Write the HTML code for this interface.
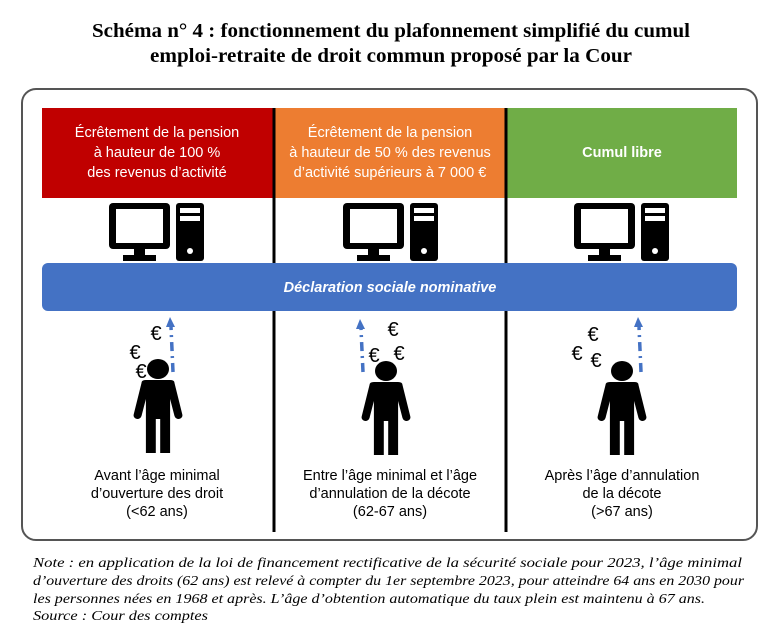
<!DOCTYPE html>
<html><head><meta charset="utf-8"><style>html,body{margin:0;padding:0;background:#fff}svg{display:block}</style></head>
<body>
<svg width="783" height="633" viewBox="0 0 783 633" xmlns="http://www.w3.org/2000/svg">
<defs>
<g id="pc">
  <rect x="0" y="0" width="61" height="46" rx="4" fill="#000"/>
  <rect x="7" y="6" width="47" height="34" fill="#fff"/>
  <rect x="25" y="46" width="11" height="8" fill="#000"/>
  <rect x="14" y="52" width="33" height="6" fill="#000"/>
  <rect x="67" y="0" width="28" height="58" rx="3" fill="#000"/>
  <rect x="71" y="5" width="20" height="5" fill="#fff"/>
  <rect x="71" y="13" width="20" height="5" fill="#fff"/>
  <circle cx="81" cy="48" r="3" fill="#fff"/>
</g>
<g id="man">
  <circle cx="0" cy="0" r="10" fill="#000"/>
  <path d="M-15,14 Q-15,11 -11,11 L11,11 Q15,11 15,14 L22,45 Q23,49 19,50 Q16,50 15,47 L11,30 L11,84 L2,84 L2,50 L-2,50 L-2,84 L-11,84 L-11,30 L-15,47 Q-16,50 -19,50 Q-23,49 -22,45 Z" fill="#000"/>
</g>
</defs>
<g font-family="Liberation Serif, serif" font-weight="bold" font-size="20" text-anchor="middle" fill="#000">
<text x="391" y="37" textLength="598" lengthAdjust="spacingAndGlyphs">Schéma n° 4 : fonctionnement du plafonnement simplifié du cumul</text>
<text x="391" y="62" textLength="482" lengthAdjust="spacingAndGlyphs">emploi-retraite de droit commun proposé par la Cour</text>
</g>
<rect x="22" y="89" width="735" height="451" rx="14" fill="none" stroke="#555" stroke-width="2"/>
<rect x="42" y="108" width="231" height="90" fill="#c00000"/>
<rect x="275" y="108" width="230" height="90" fill="#ed7d31"/>
<rect x="507" y="108" width="230" height="90" fill="#70ad47"/>
<line x1="274" y1="108" x2="274" y2="532" stroke="#000" stroke-width="3"/>
<line x1="506" y1="108" x2="506" y2="532" stroke="#000" stroke-width="3"/>
<g font-family="Liberation Sans, sans-serif" font-size="14.5" fill="#fff" text-anchor="middle">
<text x="157" y="137">Écrêtement de la pension</text>
<text x="157" y="157">à hauteur de 100 %</text>
<text x="157" y="177">des revenus d’activité</text>
<text x="390" y="137">Écrêtement de la pension</text>
<text x="390" y="157">à hauteur de 50 % des revenus</text>
<text x="390" y="177">d’activité supérieurs à 7 000 €</text>
<text x="622" y="157" font-weight="bold">Cumul libre</text>
</g>
<use href="#pc" x="109" y="203"/>
<use href="#pc" x="343" y="203"/>
<use href="#pc" x="574" y="203"/>
<rect x="42" y="263" width="695" height="48" rx="6" fill="#4472c4"/>
<text x="390" y="292" font-family="Liberation Sans, sans-serif" font-size="14.5" font-style="italic" font-weight="bold" fill="#fff" text-anchor="middle">Déclaration sociale nominative</text>
<g stroke="#4472c4" stroke-width="3.5" stroke-dasharray="9,5,2,5" fill="none">
<line x1="173" y1="372" x2="171" y2="327"/>
<line x1="363" y1="372" x2="361" y2="329"/>
<line x1="641" y1="372" x2="639" y2="327"/>
</g>
<g fill="#4472c4">
<path d="M170,317 L166,327 L175,327 Z"/>
<path d="M360,319 L356,329 L365,329 Z"/>
<path d="M638,317 L634,327 L643,327 Z"/>
</g>
<g font-family="Liberation Sans, sans-serif" font-size="20" fill="#000" text-anchor="middle">
<text x="156" y="340">€</text><text x="135" y="359">€</text><text x="141" y="378">€</text>
<text x="393" y="336">€</text><text x="374" y="362">€</text><text x="399" y="360">€</text>
<text x="593" y="341">€</text><text x="577" y="360">€</text><text x="596" y="367">€</text>
</g>
<use href="#man" transform="translate(158,369) scale(1.1,1)"/>
<use href="#man" transform="translate(386,371) scale(1.1,1)"/>
<use href="#man" transform="translate(622,371) scale(1.1,1)"/>
<g font-family="Liberation Sans, sans-serif" font-size="14.5" fill="#000" text-anchor="middle">
<text x="157" y="480">Avant l’âge minimal</text>
<text x="157" y="498">d’ouverture des droit</text>
<text x="157" y="516">(&lt;62 ans)</text>
<text x="390" y="480">Entre l’âge minimal et l’âge</text>
<text x="390" y="498">d’annulation de la décote</text>
<text x="390" y="516">(62-67 ans)</text>
<text x="622" y="480">Après l’âge d’annulation</text>
<text x="622" y="498">de la décote</text>
<text x="622" y="516">(&gt;67 ans)</text>
</g>
<g font-family="Liberation Serif, serif" font-style="italic" font-size="14" fill="#000">
<text x="33" y="567" textLength="709" lengthAdjust="spacingAndGlyphs">Note : en application de la loi de financement rectificative de la sécurité sociale pour 2023, l’âge minimal</text>
<text x="33" y="585" textLength="711" lengthAdjust="spacingAndGlyphs">d’ouverture des droits (62 ans) est relevé à compter du 1er septembre 2023, pour atteindre 64 ans en 2030 pour</text>
<text x="33" y="603" textLength="672" lengthAdjust="spacingAndGlyphs">les personnes nées en 1968 et après. L’âge d’obtention automatique du taux plein est maintenu à 67 ans.</text>
<text x="33" y="620" textLength="175" lengthAdjust="spacingAndGlyphs">Source : Cour des comptes</text>
</g>
</svg>
</body></html>
